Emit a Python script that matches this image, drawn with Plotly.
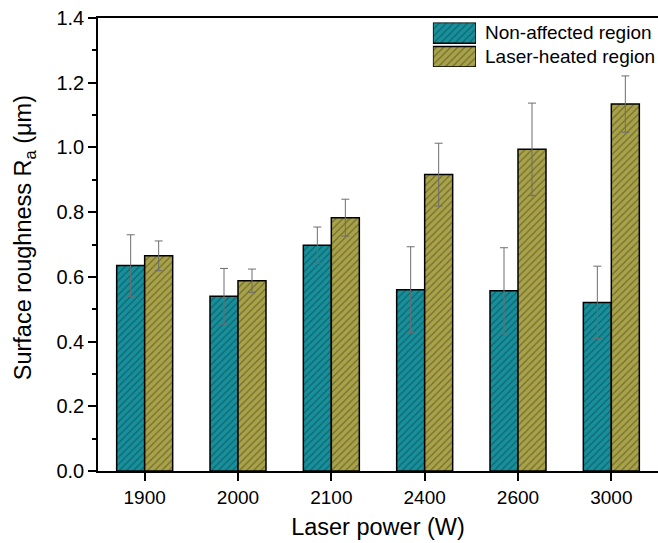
import plotly.graph_objects as go

# Laser power settings (W)
powers = ["1900", "2000", "2100", "2400", "2600", "3000"]

# Mean surface roughness Ra (µm) and standard deviations
ra_non_affected = [0.635, 0.540, 0.698, 0.560, 0.557, 0.521]
err_non_affected = [0.095, 0.086, 0.056, 0.133, 0.133, 0.112]
ra_laser_heated = [0.665, 0.588, 0.783, 0.916, 0.994, 1.134]
err_laser_heated = [0.046, 0.036, 0.057, 0.097, 0.143, 0.087]

series_names = ["Non-affected region", "Laser-heated region"]
teal = "#15909c"
olive = "#aaa246"
hatch = "rgba(20,30,30,0.75)"
font_family = "Liberation Sans, Arial, sans-serif"


def pattern(color):
    return dict(shape="/", fillmode="overlay", bgcolor=color,
                fgcolor=hatch, size=5, solidity=0.28)


def error(vals):
    return dict(type="data", array=vals, visible=True,
                color="#6e6e6e", thickness=1, width=4)


fig = go.Figure()
fig.add_trace(go.Bar(
    x=powers, y=ra_non_affected, name=series_names[0],
    marker=dict(color=teal, pattern=pattern(teal),
                line=dict(color="black", width=1.5)),
    error_y=error(err_non_affected), showlegend=False,
))
fig.add_trace(go.Bar(
    x=powers, y=ra_laser_heated, name=series_names[1],
    marker=dict(color=olive, pattern=pattern(olive),
                line=dict(color="black", width=1.5)),
    error_y=error(err_laser_heated), showlegend=False,
))

# Legend keys drawn as hatched swatches on a small overlay axis
fig.add_trace(go.Bar(
    x=[0], y=[0.93], base=[1.07], width=[1], offset=-0.5,
    marker=dict(color=teal, pattern=pattern(teal),
                line=dict(color="black", width=1.5)),
    xaxis="x2", yaxis="y2", showlegend=False, hoverinfo="skip",
))
fig.add_trace(go.Bar(
    x=[0], y=[0.92], base=[0], width=[1], offset=-0.5,
    marker=dict(color=olive, pattern=pattern(olive),
                line=dict(color="black", width=1.5)),
    xaxis="x2", yaxis="y2", showlegend=False, hoverinfo="skip",
))
for name, ypos in zip(series_names, [0.967, 0.914]):
    fig.add_annotation(
        text=name, xref="paper", yref="paper", x=0.6875, y=ypos,
        xanchor="left", yanchor="middle", showarrow=False,
        font=dict(family=font_family, size=19, color="black"),
    )

# Y axis title with subscript
fig.add_annotation(
    text="Surface roughness R<sub>a</sub> (μm)", textangle=-90,
    xref="paper", yref="paper", x=-0.132, y=0.514,
    xanchor="center", yanchor="middle", showarrow=False,
    font=dict(family=font_family, size=23.5, color="black"),
)

fig.update_layout(
    width=658, height=543,
    margin=dict(l=98, r=0, t=18, b=72),
    paper_bgcolor="white", plot_bgcolor="white",
    barmode="group", bargap=0.4, bargroupgap=0,
    font=dict(family=font_family, color="black"),
    xaxis=dict(
        type="category", range=[-0.5, 5.5],
        showline=True, linecolor="black", linewidth=1.5, mirror=True,
        ticks="outside", ticklen=8, tickwidth=1.5, tickcolor="black",
        tickfont=dict(size=19), showgrid=False, zeroline=False,
        title=dict(text="Laser power (W)", font=dict(size=23.5), standoff=12),
    ),
    yaxis=dict(
        range=[0, 1.4], dtick=0.2, tickformat=".1f",
        showline=True, linecolor="black", linewidth=1.5, mirror=False,
        ticks="outside", ticklen=8, tickwidth=1.5, tickcolor="black",
        minor=dict(dtick=0.1, ticks="outside", ticklen=4, tickwidth=1.5,
                   tickcolor="black"),
        tickfont=dict(size=20), showgrid=False, zeroline=False,
    ),
    xaxis2=dict(domain=[0.598, 0.675], range=[-0.5, 0.5], anchor="y2",
                visible=False, fixedrange=True),
    yaxis2=dict(domain=[0.892, 0.99], range=[0, 2], anchor="x2",
                visible=False, fixedrange=True),
)

fig.write_html("out.html")
